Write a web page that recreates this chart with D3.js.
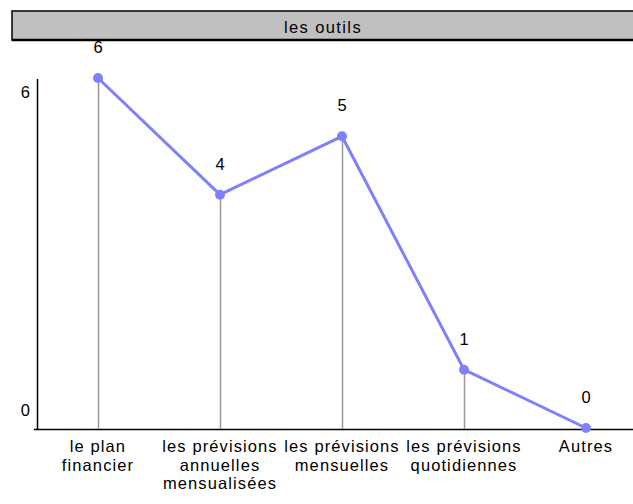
<!DOCTYPE html>
<html><head><meta charset="utf-8">
<script src="https://cdn.jsdelivr.net/npm/d3@7"></script>
<style>body{margin:0;background:#fff}svg{display:block;font-family:"Liberation Sans",Arial,sans-serif}</style>
</head><body>
<script>
const title = "les outils";
const categories = ["le plan financier","les prévisions annuelles mensualisées","les prévisions mensuelles","les prévisions quotidiennes","Autres"];
const categoryLines = [["le plan","financier"],["les prévisions","annuelles","mensualisées"],["les prévisions","mensuelles"],["les prévisions","quotidiennes"],["Autres"]];
const values = [6,4,5,1,0];
const yTickLabels = [6,0];

const W=633,H=504,FS=16.5;
const svg=d3.select("body").append("svg").attr("width",W).attr("height",H);

// title bar
svg.append("rect").attr("x",12).attr("y",11).attr("width",W).attr("height",29)
  .attr("fill","#c0c0c0").attr("stroke","#000").attr("stroke-width",1.5);
svg.append("line").attr("x1",12).attr("x2",W).attr("y1",40).attr("y2",40).attr("stroke","#000").attr("stroke-width",2.5);
svg.append("text").attr("x",323).attr("y",33).attr("text-anchor","middle").attr("font-size",FS).attr("letter-spacing",1.4).text(title);

const x=d3.scaleBand().domain(categories).range([37,647]);
const y=d3.scaleLinear().domain([0,6]).range([428,78]);

// axes
svg.append("line").attr("x1",37.5).attr("x2",37.5).attr("y1",79).attr("y2",430).attr("stroke","#000").attr("stroke-width",1.5);
svg.append("line").attr("x1",34).attr("x2",W).attr("y1",429.5).attr("y2",429.5).attr("stroke","#000").attr("stroke-width",1.5);

// y labels (offset like reference)
svg.append("text").attr("x",30).attr("y",98).attr("text-anchor","end").attr("font-size",FS).text(yTickLabels[0]);
svg.append("text").attr("x",30).attr("y",416).attr("text-anchor","end").attr("font-size",FS).text(yTickLabels[1]);

const cx=c=>x(c)+x.bandwidth()/2;
// drop lines
svg.selectAll(".drop").data(categories).enter().append("line")
  .attr("x1",c=>Math.round(cx(c))+0.5).attr("x2",c=>Math.round(cx(c))+0.5)
  .attr("y1",(c,i)=>y(values[i])).attr("y2",429).attr("stroke","#999").attr("stroke-width",1.5);

const line=d3.line().x((d,i)=>cx(categories[i])).y(d=>y(d));
svg.append("path").attr("d",line(values)).attr("fill","none").attr("stroke","#8080ff").attr("stroke-width",3);
svg.selectAll(".pt").data(values).enter().append("circle")
  .attr("cx",(d,i)=>cx(categories[i])).attr("cy",d=>y(d)).attr("r",5).attr("fill","#8080ff");

svg.selectAll(".vl").data(values).enter().append("text")
  .attr("x",(d,i)=>cx(categories[i])).attr("y",d=>y(d)-25).attr("text-anchor","middle").attr("font-size",FS).text(d=>d);

// category labels
categories.forEach((c,i)=>{
  const t=svg.append("text").attr("x",cx(c)).attr("y",452).attr("text-anchor","middle").attr("font-size",FS).attr("letter-spacing",1.1);
  categoryLines[i].forEach((l,j)=>t.append("tspan").attr("x",cx(c)).attr("dy",j?18.5:0).text(l));
});
</script>
</body></html>
